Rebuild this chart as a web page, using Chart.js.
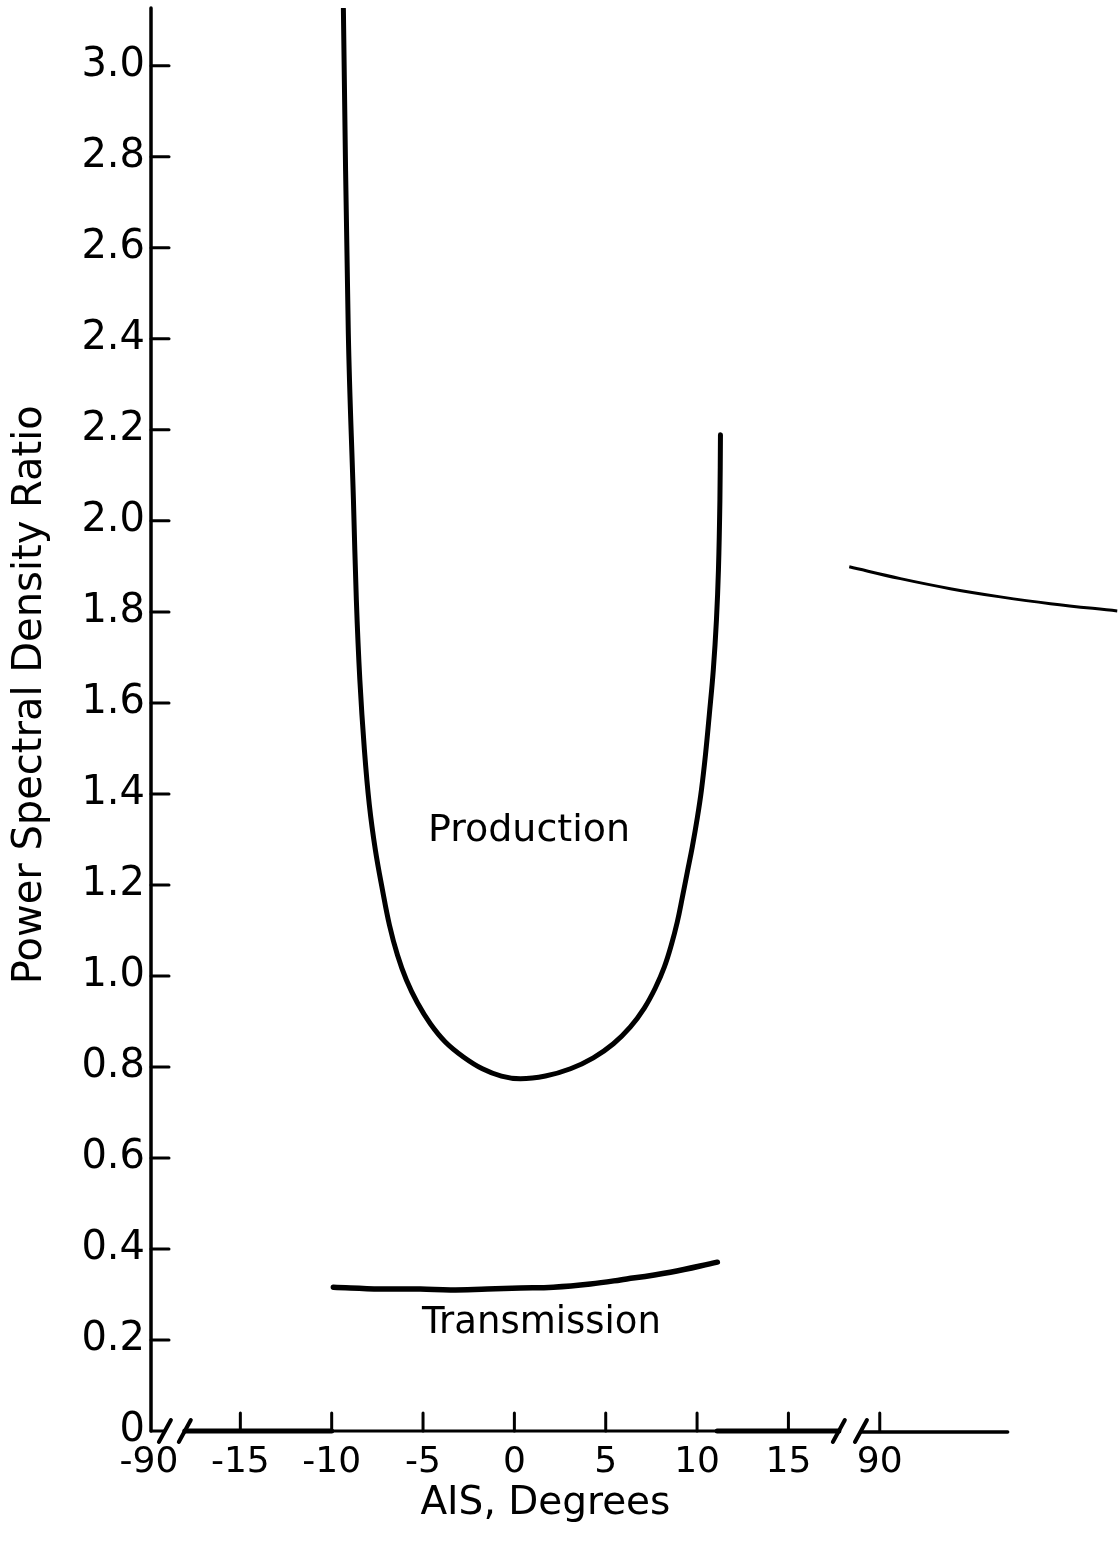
<!DOCTYPE html>
<html>
<head>
<meta charset="utf-8">
<script src="https://cdn.jsdelivr.net/npm/chart.js@4.4.0/dist/chart.umd.min.js"></script>
<style>
  html, body { margin: 0; padding: 0; background: #fff; }
  canvas { display: block; }
</style>
</head>
<body>
<canvas id="psd" width="1120" height="1558"></canvas>
<script>
// The AIS axis is broken: -90 and 90 deg sit at axis positions -20 and 20,
// the span between -15 and 15 is linear in degrees.
const xTickValues = [-20, -15, -10, -5, 0, 5, 10, 15, 20];
const xTickLabels = ['-90', '-15', '-10', '-5', '0', '5', '10', '15', '90'];

const yTickValues = [0, 0.2, 0.4, 0.6, 0.8, 1.0, 1.2, 1.4, 1.6, 1.8, 2.0, 2.2, 2.4, 2.6, 2.8, 3.0];
const yTickLabels = ['0', '0.2', '0.4', '0.6', '0.8', '1.0', '1.2', '1.4', '1.6', '1.8', '2.0', '2.2', '2.4', '2.6', '2.8', '3.0'];

// Production curve (AIS in degrees, PSD ratio)
const productionX = [-9.36, -9.09, -8.81, -8.65, -8.46, -8.21, -7.94, -7.61, -7.22, -6.84, -6.40, -5.91, -5.31, -4.60, -3.78, -2.79, -1.75, -0.71, 0.33,
                     1.70, 3.07, 4.32, 5.42, 6.35, 7.12, 7.72, 8.21, 8.59, 8.92, 9.20, 9.47, 9.74, 10.02, 10.24, 10.46, 10.67, 10.89, 11.06, 11.17, 11.25, 11.28];
const productionY = [3.125, 2.413, 2.046, 1.826, 1.651, 1.497, 1.376, 1.277, 1.189, 1.112, 1.046, 0.991, 0.941, 0.895, 0.855, 0.822, 0.796, 0.780, 0.774,
                     0.780, 0.796, 0.820, 0.851, 0.888, 0.930, 0.974, 1.020, 1.068, 1.119, 1.174, 1.229, 1.284, 1.349, 1.409, 1.486, 1.574, 1.673, 1.782, 1.892, 2.046, 2.189];

// Transmission curve
const transmissionX = [-9.91, -7.33, -5.15, -3.50, -1.48, 0.33, 2.13, 4.16, 5.80, 8.54, 11.11];
const transmissionY = [0.316, 0.312, 0.312, 0.310, 0.312, 0.314, 0.316, 0.323, 0.332, 0.349, 0.371];

// Production branch beyond the axis break (axis positions)
const highAngleX = [18.33, 21.13, 23.86, 26.6, 29.34, 33.0];
const highAngleY = [1.899, 1.873, 1.851, 1.833, 1.818, 1.802];

const toPoints = (xs, ys) => xs.map((v, i) => ({ x: v, y: ys[i] }));

const FONT = "'DejaVu Sans', sans-serif";
Chart.defaults.font.family = FONT;
Chart.defaults.color = '#000';

// Hand-drawn style axes with inward ticks, break marks and lettering
const brokenAxes = {
  id: 'brokenAxes',
  beforeDatasetsDraw(chart) {
    const { ctx, chartArea, scales: { x, y } } = chart;
    const X = v => x.getPixelForValue(v);
    const Y = v => y.getPixelForValue(v);
    const y0 = Y(0);
    const ax = X(-20) + 2;
    const seg = (x1, y1, x2, y2, w) => {
      ctx.lineWidth = w;
      ctx.beginPath(); ctx.moveTo(x1, y1); ctx.lineTo(x2, y2); ctx.stroke();
    };
    ctx.save();
    ctx.strokeStyle = '#000';
    ctx.lineCap = 'round';

    // vertical axis and its ticks
    seg(ax, chartArea.top, ax, y0, 3.5);
    yTickValues.forEach(v => { if (v > 0) seg(ax, Y(v), ax + 18, Y(v), 3); });

    // horizontal axis pieces
    seg(ax, y0, X(-19.13), y0, 3);
    seg(X(-18.04), y0, X(-10), y0, 5);
    seg(X(-10), y0, X(11.1), y0, 3);
    seg(X(11.1), y0, X(17.76), y0, 5);
    seg(X(18.97), y0 + 1, X(27), y0 + 1, 3.5);

    // break marks
    [-19.13, -18.04, 17.76, 18.97].forEach(v => {
      const cx = X(v);
      seg(cx - 6, y0 + 11, cx + 6, y0 - 11, 4);
    });

    // tick marks pointing up
    xTickValues.forEach(v => { if (v > -20) seg(X(v), y0, X(v), y0 - 18, 3); });
    ctx.restore();
  },
  afterDatasetsDraw(chart) {
    const { ctx, scales: { x, y } } = chart;
    const X = v => x.getPixelForValue(v);
    const Y = v => y.getPixelForValue(v);
    ctx.save();
    ctx.fillStyle = '#000';
    ctx.textAlign = 'center';
    ctx.textBaseline = 'middle';
    ctx.font = '38px ' + FONT;
    ctx.fillText('Production', X(0.8), Y(1.319));
    ctx.font = '37px ' + FONT;
    ctx.fillText('Transmission', X(1.48), Y(0.237));

    // axis titles
    ctx.font = '39px ' + FONT;
    ctx.fillText('AIS, Degrees', X(1.7), Y(0) + 73);
    ctx.translate(31, Y(1.618));
    ctx.rotate(-Math.PI / 2);
    ctx.font = '40px ' + FONT;
    ctx.fillText('Power Spectral Density Ratio', 0, 0);
    ctx.restore();
  }
};

new Chart(document.getElementById('psd'), {
  type: 'line',
  data: {
    datasets: [
      {
        label: 'Production',
        data: toPoints(productionX, productionY),
        borderColor: '#000',
        borderWidth: 5,
        pointRadius: 0,
        tension: 0.4,
        borderCapStyle: 'round',
        borderJoinStyle: 'round'
      },
      {
        label: 'Transmission',
        data: toPoints(transmissionX, transmissionY),
        borderColor: '#000',
        borderWidth: 5.5,
        pointRadius: 0,
        tension: 0.4,
        borderCapStyle: 'round',
        borderJoinStyle: 'round'
      },
      {
        label: 'Production (90 deg)',
        data: toPoints(highAngleX, highAngleY),
        borderColor: '#000',
        borderWidth: 3,
        pointRadius: 0,
        tension: 0.4
      }
    ]
  },
  options: {
    responsive: false,
    animation: false,
    devicePixelRatio: 1,
    layout: { autoPadding: false, padding: { top: 8, right: 0, bottom: 0, left: 0 } },
    plugins: { legend: { display: false }, tooltip: { enabled: false } },
    scales: {
      x: {
        type: 'linear',
        min: -20,
        max: 33.15,
        grid: { display: false, drawTicks: false },
        border: { display: false },
        afterBuildTicks: s => { s.ticks = xTickValues.map(v => ({ value: v })); },
        afterFit: s => { s.height = 127; s.paddingLeft = 0; s.paddingRight = 0; },
        ticks: {
          autoSkip: false,
          maxRotation: 0,
          padding: 10,
          font: { size: 36 },
          callback: v => xTickLabels[xTickValues.indexOf(v)]
        },
        title: { display: false }
      },
      y: {
        type: 'linear',
        min: 0,
        max: 3.127,
        grid: { display: false, drawTicks: false },
        border: { display: false },
        afterBuildTicks: s => { s.ticks = yTickValues.map(v => ({ value: v })); },
        afterFit: s => { s.width = 149; s.paddingTop = 0; s.paddingBottom = 0; },
        ticks: {
          padding: 4,
          font: { size: 40 },
          callback: v => yTickLabels[yTickValues.indexOf(v)]
        },
        title: { display: false }
      }
    }
  },
  plugins: [brokenAxes]
});
</script>
</body>
</html>
